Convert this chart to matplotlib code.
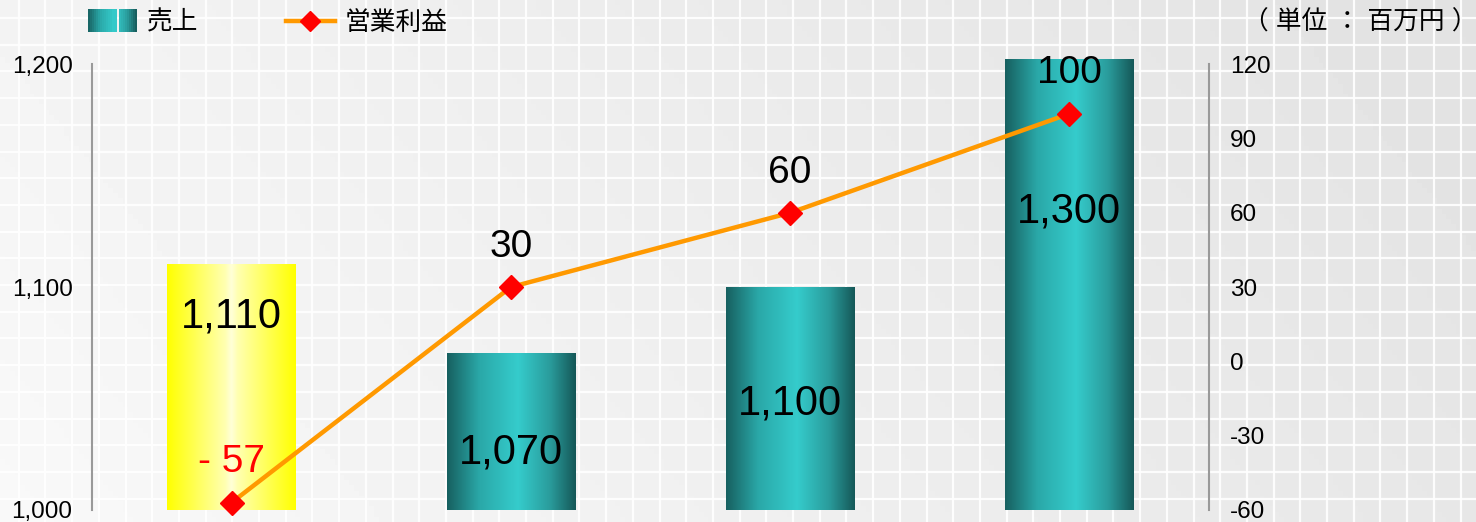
import numpy as np
import matplotlib
matplotlib.use("Agg")
import matplotlib.pyplot as plt
from matplotlib.colors import LinearSegmentedColormap
from matplotlib.legend_handler import HandlerBase
from matplotlib.lines import Line2D
from matplotlib.patches import Rectangle, Patch

plt.rcParams["font.family"] = ["Liberation Sans", "Noto Sans CJK JP"]
plt.rcParams["axes.unicode_minus"] = False

# data
periods = ["P1", "P2", "P3", "P4"]
sales = [1110, 1070, 1100, 1300]
profit = [-57, 30, 60, 100]
# where the sales labels sit inside each bar (left axis units)
sales_label_y = [1087, 1026, 1048, 1134]

sales_ticks = [1000, 1100, 1200]
profit_ticks = [-60, -30, 0, 30, 60, 90, 120]

# colour ramps
teal = LinearSegmentedColormap.from_list(
    "teal", [(0, "#176060"), (0.25, "#2aa8a8"), (0.55, "#35cccc"), (0.8, "#2a9c9c"), (1, "#155858")])
yellow = LinearSegmentedColormap.from_list(
    "yellow", [(0, "#ffff00"), (0.45, "#ffffb0"), (0.5, "#ffffd8"), (0.55, "#ffffb0"), (1, "#ffff00")])
bar_cmaps = [yellow, teal, teal, teal]

fig = plt.figure(figsize=(14.76, 5.22), dpi=100)

# background: light gradient with a white grid
bg = fig.add_axes([0, 0, 1, 1], zorder=-10)
xx, yy = np.meshgrid(np.linspace(0, 1, 300), np.linspace(0, 1, 100))
shade = 0.975 - 0.07 * xx - 0.02 * (1 - yy)
bg.imshow(shade, cmap="gray", vmin=0, vmax=1, extent=[0, 1476, 522, 0], aspect="auto")
for gx in np.arange(-8, 1476, 26.7):
    bg.axvline(gx, color="white", lw=1.6, alpha=0.9)
for gy in np.arange(18, 522, 26.7):
    bg.axhline(gy, color="white", lw=1.6, alpha=0.9)
bg.set_xlim(0, 1476)
bg.set_ylim(522, 0)
bg.axis("off")

ax = fig.add_axes([0.0623, 0.023, 0.7568, 0.854])
ax.patch.set_visible(False)
x = np.arange(len(periods))
ymin, ymax = 1000, 1200
bars = ax.bar(x, sales, width=0.46, bottom=0, color="none", edgecolor="none")

# gradient fill for each bar, cut to the visible range
grad = np.linspace(0, 1, 256).reshape(1, -1)
for patch, cmap in zip(bars.patches, bar_cmaps):
    x0 = patch.get_x()
    x1 = x0 + patch.get_width()
    top = min(patch.get_height(), ymax + 2)
    ax.imshow(grad, cmap=cmap, extent=[x0, x1, ymin, top], aspect="auto", zorder=2, clip_on=False)
ax.set_xlim(-0.5, len(periods) - 0.5)
ax.set_ylim(ymin, ymax)
ax.set_aspect("auto")

for i, v in enumerate(sales):
    ax.text(x[i], sales_label_y[i], f"{v:,}", ha="center", va="center", fontsize=30, zorder=5)

ax.set_xticks([])
ax.set_yticks(sales_ticks)
ax.set_yticklabels([f"{t:,}" for t in sales_ticks])
ax.tick_params(axis="y", length=0, pad=14, labelsize=17.5)
for s in ["top", "bottom", "right"]:
    ax.spines[s].set_visible(False)
ax.spines["left"].set_color("#999999")
ax.spines["left"].set_linewidth(1.5)

ax2 = ax.twinx()
ax2.set_zorder(ax.get_zorder() + 1)
ax2.patch.set_visible(False)
ax2.plot(x, profit, color="#ff9900", lw=3.2, marker="D", markersize=12,
         markerfacecolor="#ff0000", markeredgecolor="#ff0000", zorder=4, clip_on=False)
ax2.set_ylim(-60, 120)
ax2.set_yticks(profit_ticks)
ax2.set_yticklabels([str(t) for t in profit_ticks])
ax2.tick_params(axis="y", length=0, pad=15, labelsize=17.5)
for s in ["top", "bottom", "left"]:
    ax2.spines[s].set_visible(False)
ax2.spines["right"].set_color("#999999")
ax2.spines["right"].set_linewidth(1.5)

for i, v in enumerate(profit):
    txt = f"- {abs(v)}" if v < 0 else f"{v}"
    ax2.annotate(txt, (x[i], v), xytext=(0, 29), textcoords="offset points",
                 ha="center", va="center", fontsize=28,
                 color="#ff0000" if v < 0 else "black", zorder=6)


class GradientHandler(HandlerBase):
    def create_artists(self, legend, orig_handle, xdescent, ydescent, width, height, fontsize, trans):
        arts = []
        n = 24
        for k in range(n):
            t = (k + 0.5) / n
            # small gap in the middle like the original icon
            if 0.6 < t < 0.64:
                continue
            r = Rectangle((-xdescent + width * k / n, -ydescent - 2), width / n + 0.3, height + 4,
                          facecolor=teal(t), edgecolor="none", transform=trans)
            arts.append(r)
        return arts


handles = [Patch(label="売上"),
           Line2D([0], [0], color="#ff9900", lw=3.2, marker="D", markersize=10,
                  markerfacecolor="#ff0000", markeredgecolor="#ff0000", label="営業利益")]
fig.legend(handles=handles, loc="center left", bbox_to_anchor=(0.044, 0.957), ncol=2,
           frameon=False, fontsize=18.5, handlelength=1.9, handletextpad=0.4, columnspacing=3.4,
           handler_map={Patch: GradientHandler()})

fig.text(1.001, 0.958, "（ 単位 ： 百万円 ）", ha="right", va="center", fontsize=18.5)

fig.savefig("out.png", dpi=100)
